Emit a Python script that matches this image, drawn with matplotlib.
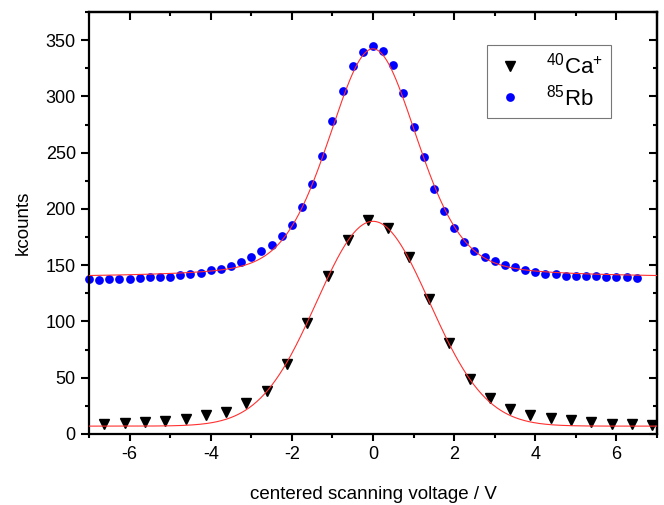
import numpy as np
import matplotlib
matplotlib.use("Agg")
import matplotlib.pyplot as plt
from matplotlib.ticker import MultipleLocator

plt.rcParams['font.family'] = ['Liberation Sans', 'DejaVu Sans']
plt.rcParams['mathtext.fontset'] = 'custom'
plt.rcParams['mathtext.rm'] = 'Liberation Sans'
plt.rcParams['mathtext.it'] = 'Liberation Sans:italic'
plt.rcParams['axes.unicode_minus'] = False

# ---- data ----
rb_x = np.arange(55) * 0.25 - 7.0
rb_y = [137.6, 137.0, 137.9, 137.9, 137.9, 138.5, 139.4, 139.4, 139.7, 141.2,
        142.3, 143.5, 145.3, 146.8, 149.5, 152.8, 156.9, 162.2, 167.9, 175.9,
        185.3, 201.7, 221.8, 247.1,
        278.5, 305.2, 327.1, 339.6, 344.9, 340.7, 328.3, 302.8, 272.5, 246.4,
        218.0, 198.4, 183.3, 170.2, 162.8, 156.9, 153.6, 150.4, 148.0, 145.9,
        144.4, 142.6, 142.1, 140.6, 140.6, 140.3, 140.6, 139.7, 139.4, 139.7, 138.8]

ca_x = np.arange(28) * 0.5 - 6.62
ca_y = [8.6, 9.5, 10.7, 11.8, 13.6, 16.6, 19.8, 27.3, 38.5, 62.0, 98.5, 140.0,
        172.6, 190.4, 183.3, 156.9, 120.1, 80.7, 48.9, 32.0, 22.2, 17.2, 14.0,
        12.5, 10.7, 9.2, 8.9, 7.7]

# fit parameters: baseline, amplitude, center, width, lorentz fraction
rb_fit = [138.8, 203.5, 0.0, 1.30, 0.30]   # pseudo-Voigt (HWHM)
ca_fit = [7.0, 182.0, 0.0, 1.39]           # Gaussian (sigma)

labels = [r'$^{40}$Ca$^{+}$', r'$^{85}$Rb']
xlabel = 'centered scanning voltage / V'
ylabel = 'kcounts'


def pvoigt(x, b, a, c, w, eta):
    u = ((x - c) / w) ** 2
    return b + a * (eta / (1 + u) + (1 - eta) * np.exp(-np.log(2) * u))


def gauss(x, b, a, c, s):
    return b + a * np.exp(-(x - c) ** 2 / (2 * s ** 2))


fig = plt.figure(figsize=(6.64, 5.05), dpi=100)
ax = fig.add_axes([89 / 664, 1 - 434 / 505, (657 - 89) / 664, (434 - 12) / 505])

xf = np.linspace(-7, 7, 600)
ax.plot(xf, pvoigt(xf, *rb_fit), color='#ff3030', lw=0.8, zorder=3)
ax.plot(xf, gauss(xf, *ca_fit), color='#ff3030', lw=0.8, zorder=3)

ax.plot(ca_x, ca_y, linestyle='none', marker='v', ms=7, color='black',
        label=labels[0], zorder=2)
ax.plot(rb_x, rb_y, linestyle='none', marker='o', ms=6.3, color='#0000ff',
        markeredgewidth=0, label=labels[1], zorder=2, clip_on=False)

ax.set_xlim(-7, 7)
ax.set_ylim(0, 375)
ax.xaxis.set_major_locator(MultipleLocator(2))
ax.xaxis.set_minor_locator(MultipleLocator(1))
ax.yaxis.set_major_locator(MultipleLocator(50))
ax.yaxis.set_minor_locator(MultipleLocator(25))

for s in ax.spines.values():
    s.set_linewidth(1.6)

ax.tick_params(which='both', direction='out', width=1.5, labelsize=13,
               top=False, right=False)
ax.tick_params(which='major', length=5)
ax.tick_params(which='minor', length=3)
ax.tick_params(axis='y', which='major', length=6)

secx = ax.secondary_xaxis('top')
secx.xaxis.set_major_locator(MultipleLocator(2))
secx.xaxis.set_minor_locator(MultipleLocator(1))
secx.tick_params(which='both', direction='in', width=1.5, labeltop=False)
secx.tick_params(which='major', length=6)
secx.tick_params(which='minor', length=3)
secx.spines['top'].set_linewidth(1.6)

secy = ax.secondary_yaxis('right')
secy.yaxis.set_major_locator(MultipleLocator(50))
secy.yaxis.set_minor_locator(MultipleLocator(25))
secy.tick_params(which='both', direction='in', width=1.5, labelright=False)
secy.tick_params(which='major', length=6)
secy.tick_params(which='minor', length=3)
secy.spines['right'].set_linewidth(1.6)

ax.set_xlabel(xlabel, fontsize=13.5, labelpad=17)
ax.set_ylabel(ylabel, fontsize=13.5, labelpad=10)

leg = ax.legend(loc='upper left', bbox_to_anchor=((487 - 89) / 568, 1 - (45 - 12) / 422),
                fontsize=16, frameon=True, fancybox=False, borderpad=0.35,
                handletextpad=0.9, labelspacing=0.25, handlelength=1.4,
                borderaxespad=0)
leg.get_frame().set_edgecolor('#555555')
leg.get_frame().set_linewidth(0.8)

fig.savefig('out.png', dpi=100)
